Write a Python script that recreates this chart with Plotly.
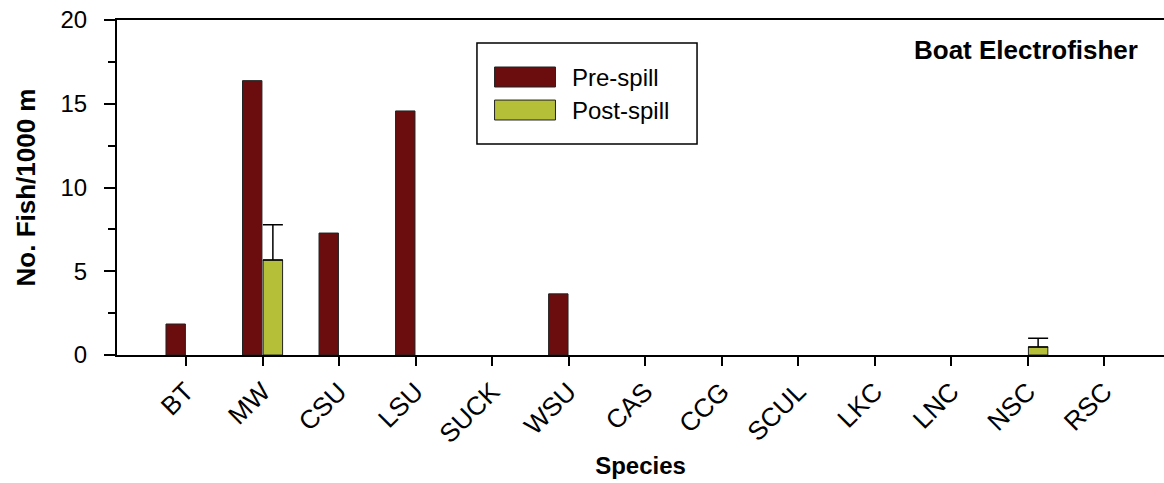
import plotly.graph_objects as go

species = ["BT", "MW", "CSU", "LSU", "SUCK", "WSU", "CAS", "CCG", "SCUL", "LKC", "LNC", "NSC", "RSC"]
pre_spill = [1.85, 16.38, 7.28, 14.57, 0, 3.65, 0, 0, 0, 0, 0, 0, 0]
post_spill = [0, 5.67, 0, 0, 0, 0, 0, 0, 0, 0, 0, 0.48, 0]
post_err = [0, 2.1, 0, 0, 0, 0, 0, 0, 0, 0, 0, 0.52, 0]

PRE_COLOR = "#6b0d0e"
POST_COLOR = "#b5bf37"
FONT = "Liberation Sans, Arial, sans-serif"


def nonzero(values):
    # zero catches are left blank so nothing is drawn on the baseline
    return [v if v > 0 else None for v in values]


fig = go.Figure()
fig.add_trace(go.Bar(
    x=species, y=nonzero(pre_spill), name="Pre-spill",
    marker=dict(color=PRE_COLOR, line=dict(color="#222222", width=1)),
))
fig.add_trace(go.Bar(
    x=species, y=nonzero(post_spill), name="Post-spill",
    marker=dict(color=POST_COLOR, line=dict(color="#222222", width=1)),
    error_y=dict(type="data", symmetric=False, array=post_err,
                 arrayminus=[0] * len(post_err),
                 color="black", thickness=1.5, width=10),
))

fig.update_layout(
    width=1164, height=483,
    margin=dict(l=117, r=0, t=20, b=128),
    paper_bgcolor="white", plot_bgcolor="white",
    barmode="group", bargap=0.46, bargroupgap=0.06,
    showlegend=False,
    font=dict(family=FONT, size=24, color="black"),
    xaxis=dict(
        type="category", range=[-0.902, 12.78],
        showline=True, linecolor="black", linewidth=2, mirror=True,
        layer="above traces",
        ticks="outside", ticklen=9, tickwidth=2, tickcolor="black",
        tickangle=-45, tickfont=dict(size=26),
        showgrid=False,
        title=dict(text="<b>Species</b>", font=dict(size=24), standoff=9),
    ),
    yaxis=dict(
        range=[0, 20], tickvals=[0, 5, 10, 15, 20],
        showline=True, linecolor="black", linewidth=2,
        ticks="outside", ticklen=11, tickwidth=2, tickcolor="black",
        minor=dict(tickvals=[2.5, 7.5, 12.5, 17.5], ticks="outside",
                   ticklen=7, tickwidth=2, tickcolor="black"),
        showgrid=False, zeroline=False,
        tickfont=dict(size=24), ticklabelstandoff=12,
        title=dict(text="<b>No. Fish/1000 m</b>", font=dict(size=26), standoff=17),
    ),
)

# Legend panel
fig.add_shape(type="rect", xref="paper", yref="paper",
              x0=0.3438, x1=0.554, y0=0.630, y1=0.931,
              line=dict(color="black", width=1.5), fillcolor="white")
for (y0, y1, color, label) in [(0.800, 0.8597, PRE_COLOR, "Pre-spill"),
                               (0.7015, 0.761, POST_COLOR, "Post-spill")]:
    fig.add_shape(type="rect", xref="paper", yref="paper",
                  x0=0.3606, x1=0.4188, y0=y0, y1=y1,
                  line=dict(color="#222222", width=1), fillcolor=color)
    fig.add_annotation(xref="paper", yref="paper", x=0.4327, y=(y0 + y1) / 2,
                       text=label, showarrow=False, xanchor="left", yanchor="middle",
                       font=dict(size=24))

fig.add_annotation(xref="paper", yref="paper", x=0.977, y=0.910,
                   text="<b>Boat Electrofisher</b>", showarrow=False,
                   xanchor="right", yanchor="middle", font=dict(size=26))

fig.write_html("out.html")
